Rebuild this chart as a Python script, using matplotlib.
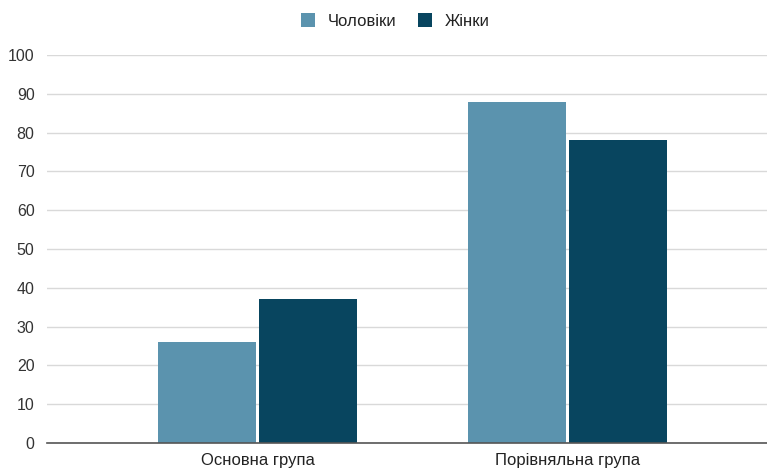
import matplotlib
matplotlib.use("Agg")
import matplotlib.pyplot as plt
import numpy as np
from matplotlib.patches import Patch

plt.rcParams['font.family'] = ['Liberation Sans', 'DejaVu Sans']

categories = ["Основна група", "Порівняльна група"]
series_names = ["Чоловіки", "Жінки"]
men = [26, 88]
women = [37, 78]
yticks = [0, 10, 20, 30, 40, 50, 60, 70, 80, 90, 100]

colors = ["#5b93ae", "#08455f"]

fig = plt.figure(figsize=(7.67, 4.68), dpi=100)
ax = fig.add_axes([47 / 767, 1 - 443 / 468, 720 / 767, (443 - 55) / 468])

x = np.arange(len(categories))
w = 0.316
off = 0.163
ax.bar(x - off, men, width=w, color=colors[0], edgecolor="none", zorder=3)
ax.bar(x + off, women, width=w, color=colors[1], edgecolor="none", zorder=3)

ax.set_ylim(0, 100)
ax.set_xlim(-0.679, 1.644)
ax.set_yticks(yticks)
ax.set_yticklabels([str(t) for t in yticks], fontsize=11.5, color="#333333")
ax.set_xticks(x)
ax.set_xticklabels(categories, fontsize=12, color="#222222")
ax.tick_params(axis="both", length=0)
ax.tick_params(axis="y", pad=9)
ax.tick_params(axis="x", pad=7)

ax.grid(axis="y", color="#d9d9d9", linewidth=1, zorder=0)
for s in ["top", "right", "left"]:
    ax.spines[s].set_visible(False)
ax.spines["bottom"].set_color("#555555")
ax.spines["bottom"].set_linewidth(1.2)
ax.spines["bottom"].set_zorder(4)

handles = [Patch(facecolor=c, edgecolor="none") for c in colors]
fig.legend(handles, series_names, loc="center", bbox_to_anchor=(395 / 767, 1 - 21 / 468),
           ncol=2, frameon=False, fontsize=12, handlelength=0.85, handleheight=0.85,
           handletextpad=0.75, columnspacing=1.3, labelcolor="#222222")

fig.savefig("out.png", dpi=100)
